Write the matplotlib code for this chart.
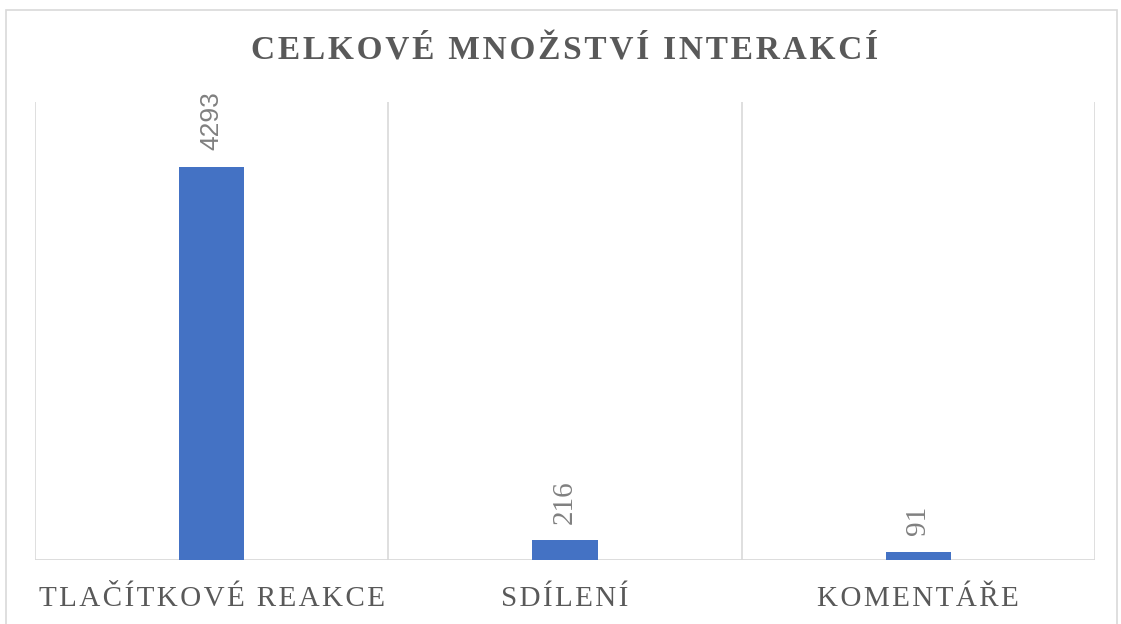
import matplotlib.pyplot as plt
from matplotlib.patches import Rectangle

categories = ['TLAČÍTKOVÉ REAKCE', 'SDÍLENÍ', 'KOMENTÁŘE']
values = [4293, 216, 91]
title = 'CELKOVÉ MNOŽSTVÍ INTERAKCÍ'

W, H = 1121, 624
HAIR = '\u200a'


def spaced(s, sep=HAIR):
    return sep.join(s)


fig = plt.figure(figsize=(W / 100, H / 100), dpi=100)

# outer chart frame
fig.patches.append(Rectangle((6 / W, -0.1), (1117 - 6) / W, 1.1 - 10 / H,
                             transform=fig.transFigure, fill=False,
                             edgecolor='#d9d9d9', lw=1.2))

ax = fig.add_axes([35 / W, 64 / H, (1095 - 35) / W, (560 - 102) / H])
x = range(len(categories))
ax.bar(x, values, width=0.184, color='#4472c4', zorder=3)
ax.set_xlim(-0.5, 2.5)
ax.set_ylim(0, 5000)

for b in [-0.5, 0.5, 1.5, 2.5]:
    ax.axvline(b, color='#d9d9d9', lw=1.2, zorder=1)
ax.axhline(0, color='#d9d9d9', lw=2, zorder=2)

for s in ax.spines.values():
    s.set_visible(False)
ax.set_yticks([])
ax.set_xticks(list(x))
ax.set_xticklabels([spaced(c) for c in categories],
                   family='Liberation Serif', fontsize=21, color='#595959')
ax.tick_params(axis='x', length=0, pad=19)

for i, v in enumerate(values):
    fam = 'Liberation Sans' if i == 0 else 'Liberation Serif'
    ax.annotate(str(v), (i, v), xytext=(0, 12), textcoords='offset points',
                rotation=90, ha='center', va='bottom',
                fontsize=19 if i == 0 else 21,
                color='#808080', family=fam)

fig.text(565 / W, 1 - 51 / H, spaced(title),
         ha='center', va='center', family='Liberation Serif',
         fontweight='bold', fontsize=24, color='#595959')

fig.savefig('out.png', dpi=100)
